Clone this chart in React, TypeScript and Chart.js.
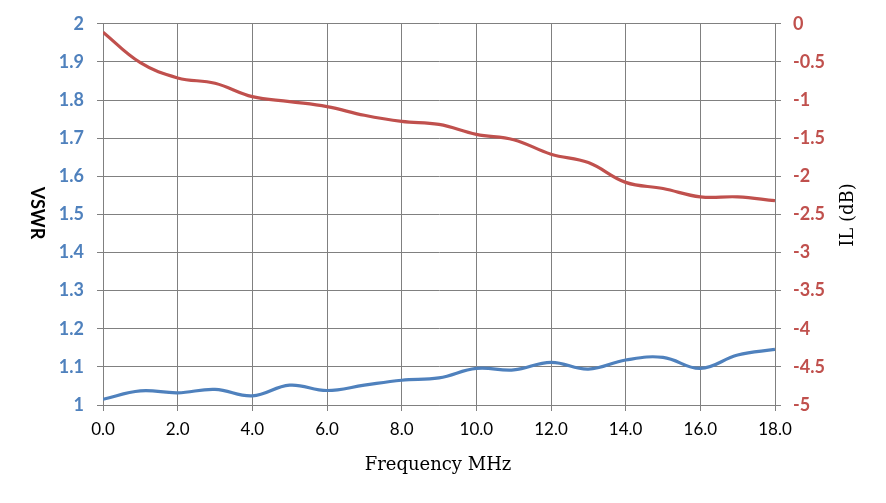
import React, { useRef, useEffect } from 'react';
import Chart from 'chart.js/auto';

const frequencyMHz = [0, 1, 2, 3, 4, 5, 6, 7, 8, 9, 10, 11, 12, 13, 14, 15, 16, 17, 18];
const vswrValues = [1.015, 1.037, 1.032, 1.041, 1.024, 1.052, 1.038, 1.052, 1.065, 1.071, 1.096, 1.092, 1.112, 1.094, 1.118, 1.125, 1.096, 1.131, 1.146];
const ilValues = [-0.11, -0.51, -0.71, -0.78, -0.955, -1.02, -1.086, -1.2, -1.28, -1.32, -1.45, -1.52, -1.71, -1.82, -2.08, -2.16, -2.27, -2.27, -2.32];

const xTitle = 'Frequency MHz';
const leftTitle = 'VSWR';
const rightTitle = 'IL (dB)';

const BLUE = '#4F81BD';
const RED = '#C0504D';
const GRID = '#808080';

const titlePlugin = {
    id: 'axisTitles',
    afterDraw(chart: any) {
        const ctx = chart.ctx;
        ctx.save();
        ctx.fillStyle = '#000';
        ctx.textAlign = 'center';
        ctx.textBaseline = 'middle';

        ctx.font = '18px "DejaVu Serif"';
        ctx.fillText(xTitle, 438, 465);

        ctx.save();
        ctx.translate(37, 213);
        ctx.rotate(Math.PI / 2);
        ctx.font = 'bold 18px Lato';
        ctx.fillText(leftTitle, 0, 0);
        ctx.restore();

        ctx.save();
        ctx.translate(848, 215);
        ctx.rotate(-Math.PI / 2);
        ctx.font = '18px "DejaVu Serif"';
        ctx.fillText(rightTitle, 0, 0);
        ctx.restore();

        ctx.restore();
    }
};

const App: React.FC = () => {
    const canvasRef = useRef<HTMLCanvasElement>(null);

    useEffect(() => {
        let chart: Chart | undefined;
        if (canvasRef.current) {
            const ctx = canvasRef.current.getContext('2d');
            if (ctx) {
                chart = new Chart(ctx, {
                    type: 'line',
                    data: {
                        datasets: [
                            {
                                label: 'VSWR',
                                data: frequencyMHz.map((f, i) => ({ x: f, y: vswrValues[i] })),
                                borderColor: BLUE,
                                borderWidth: 3.2,
                                pointRadius: 0,
                                tension: 0.4,
                                yAxisID: 'y'
                            },
                            {
                                label: 'IL',
                                data: frequencyMHz.map((f, i) => ({ x: f, y: ilValues[i] })),
                                borderColor: RED,
                                borderWidth: 3.2,
                                pointRadius: 0,
                                tension: 0.4,
                                yAxisID: 'y1'
                            }
                        ]
                    },
                    options: {
                        animation: false,
                        responsive: true,
                        maintainAspectRatio: false,
                        layout: {
                            padding: { top: 23, left: 0, right: 0, bottom: 0 }
                        },
                        scales: {
                            x: {
                                type: 'linear',
                                min: 0,
                                max: 18,
                                afterFit: (scale: any) => { scale.height = 98; },
                                ticks: {
                                    stepSize: 2,
                                    padding: 8,
                                    color: '#000',
                                    font: { family: 'Lato', size: 17 },
                                    callback: (v: any) => Number(v).toFixed(1)
                                },
                                grid: { color: GRID, tickLength: 6, lineWidth: 1 },
                                border: { color: GRID }
                            },
                            y: {
                                position: 'left',
                                min: 1,
                                max: 2,
                                afterFit: (scale: any) => { scale.width = 103; },
                                ticks: {
                                    stepSize: 0.1,
                                    padding: 13,
                                    color: BLUE,
                                    font: { family: 'Lato', size: 18, weight: 'bold' },
                                    callback: (v: any) => String(Number(Number(v).toFixed(1)))
                                },
                                grid: { color: GRID, tickLength: 6, lineWidth: 1 },
                                border: { color: GRID }
                            },
                            y1: {
                                position: 'right',
                                min: -5,
                                max: 0,
                                afterFit: (scale: any) => { scale.width = 111; },
                                ticks: {
                                    stepSize: 0.5,
                                    padding: 12,
                                    color: RED,
                                    font: { family: 'Lato', size: 18, weight: 'bold' },
                                    callback: (v: any) => String(Number(Number(v).toFixed(1)))
                                },
                                grid: { color: GRID, tickLength: 6, drawOnChartArea: false },
                                border: { color: GRID }
                            }
                        },
                        plugins: {
                            legend: { display: false },
                            tooltip: { enabled: false }
                        }
                    },
                    plugins: [titlePlugin]
                });
            }
        }
        return () => {
            if (chart) {
                chart.destroy();
            }
        };
    }, []);

    return (
        <div style={{ position: 'absolute', left: 0, top: 0, width: 886, height: 503, background: '#fff' }}>
            <canvas ref={canvasRef}></canvas>
        </div>
    );
};

export default App;
